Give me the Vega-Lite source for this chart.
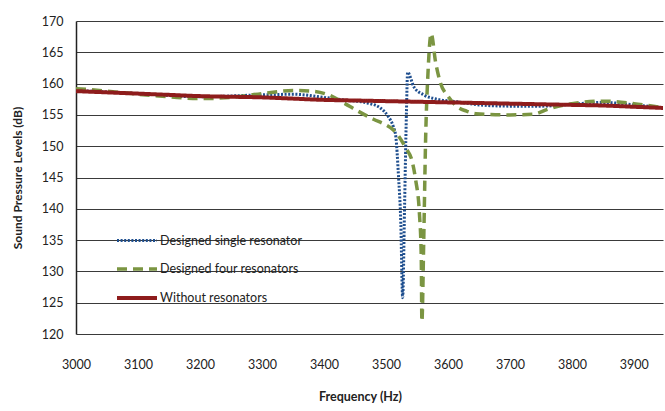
{
  "$schema": "https://vega.github.io/schema/vega-lite/v6.json",
  "width": 587,
  "height": 313,
  "autosize": {"type": "none"},
  "padding": {"left": 76, "top": 21, "right": 2, "bottom": 77},
  "background": "white",
  "config": {
    "view": {"stroke": null},
    "font": "Lato"
  },
  "data": {
    "values": [
      {"series": "Designed single resonator", "freq": 3000, "spl": 158.9},
      {"series": "Designed single resonator", "freq": 3100, "spl": 158.4},
      {"series": "Designed single resonator", "freq": 3200, "spl": 157.9},
      {"series": "Designed single resonator", "freq": 3300, "spl": 158.2},
      {"series": "Designed single resonator", "freq": 3350, "spl": 158.3},
      {"series": "Designed single resonator", "freq": 3400, "spl": 157.8},
      {"series": "Designed single resonator", "freq": 3431, "spl": 157.4},
      {"series": "Designed single resonator", "freq": 3470, "spl": 156.9},
      {"series": "Designed single resonator", "freq": 3491, "spl": 156.1},
      {"series": "Designed single resonator", "freq": 3504, "spl": 154.7},
      {"series": "Designed single resonator", "freq": 3512, "spl": 153.1},
      {"series": "Designed single resonator", "freq": 3516, "spl": 151.5},
      {"series": "Designed single resonator", "freq": 3520, "spl": 145.7},
      {"series": "Designed single resonator", "freq": 3524, "spl": 137.7},
      {"series": "Designed single resonator", "freq": 3527, "spl": 125.8},
      {"series": "Designed single resonator", "freq": 3530, "spl": 140.0},
      {"series": "Designed single resonator", "freq": 3533, "spl": 155.0},
      {"series": "Designed single resonator", "freq": 3535, "spl": 161.8},
      {"series": "Designed single resonator", "freq": 3545, "spl": 159.5},
      {"series": "Designed single resonator", "freq": 3561, "spl": 158.2},
      {"series": "Designed single resonator", "freq": 3583, "spl": 157.5},
      {"series": "Designed single resonator", "freq": 3615, "spl": 157.1},
      {"series": "Designed single resonator", "freq": 3650, "spl": 156.6},
      {"series": "Designed single resonator", "freq": 3700, "spl": 156.4},
      {"series": "Designed single resonator", "freq": 3750, "spl": 156.4},
      {"series": "Designed single resonator", "freq": 3800, "spl": 156.7},
      {"series": "Designed single resonator", "freq": 3850, "spl": 157.0},
      {"series": "Designed single resonator", "freq": 3900, "spl": 156.6},
      {"series": "Designed single resonator", "freq": 3950, "spl": 156.1},

      {"series": "Designed four resonators", "freq": 3000, "spl": 159.2},
      {"series": "Designed four resonators", "freq": 3050, "spl": 158.8},
      {"series": "Designed four resonators", "freq": 3100, "spl": 158.3},
      {"series": "Designed four resonators", "freq": 3150, "spl": 157.9},
      {"series": "Designed four resonators", "freq": 3200, "spl": 157.6},
      {"series": "Designed four resonators", "freq": 3250, "spl": 157.8},
      {"series": "Designed four resonators", "freq": 3300, "spl": 158.4},
      {"series": "Designed four resonators", "freq": 3350, "spl": 158.9},
      {"series": "Designed four resonators", "freq": 3380, "spl": 158.8},
      {"series": "Designed four resonators", "freq": 3410, "spl": 158.1},
      {"series": "Designed four resonators", "freq": 3434, "spl": 156.8},
      {"series": "Designed four resonators", "freq": 3455, "spl": 155.6},
      {"series": "Designed four resonators", "freq": 3480, "spl": 154.3},
      {"series": "Designed four resonators", "freq": 3500, "spl": 153.4},
      {"series": "Designed four resonators", "freq": 3512, "spl": 152.6},
      {"series": "Designed four resonators", "freq": 3531, "spl": 149.9},
      {"series": "Designed four resonators", "freq": 3543, "spl": 147.3},
      {"series": "Designed four resonators", "freq": 3548, "spl": 144.6},
      {"series": "Designed four resonators", "freq": 3554, "spl": 139.3},
      {"series": "Designed four resonators", "freq": 3557, "spl": 132.3},
      {"series": "Designed four resonators", "freq": 3558, "spl": 122.0},
      {"series": "Designed four resonators", "freq": 3561, "spl": 135.0},
      {"series": "Designed four resonators", "freq": 3564, "spl": 151.0},
      {"series": "Designed four resonators", "freq": 3568, "spl": 162.0},
      {"series": "Designed four resonators", "freq": 3573, "spl": 168.0},
      {"series": "Designed four resonators", "freq": 3580, "spl": 163.5},
      {"series": "Designed four resonators", "freq": 3588, "spl": 160.1},
      {"series": "Designed four resonators", "freq": 3600, "spl": 158.0},
      {"series": "Designed four resonators", "freq": 3615, "spl": 156.3},
      {"series": "Designed four resonators", "freq": 3630, "spl": 155.6},
      {"series": "Designed four resonators", "freq": 3645, "spl": 155.2},
      {"series": "Designed four resonators", "freq": 3700, "spl": 155.0},
      {"series": "Designed four resonators", "freq": 3738, "spl": 155.1},
      {"series": "Designed four resonators", "freq": 3761, "spl": 155.9},
      {"series": "Designed four resonators", "freq": 3800, "spl": 156.8},
      {"series": "Designed four resonators", "freq": 3850, "spl": 157.2},
      {"series": "Designed four resonators", "freq": 3900, "spl": 156.8},
      {"series": "Designed four resonators", "freq": 3950, "spl": 156.1},

      {"series": "Without resonators", "freq": 3000, "spl": 158.8},
      {"series": "Without resonators", "freq": 3050, "spl": 158.6},
      {"series": "Without resonators", "freq": 3100, "spl": 158.4},
      {"series": "Without resonators", "freq": 3150, "spl": 158.2},
      {"series": "Without resonators", "freq": 3200, "spl": 158.0},
      {"series": "Without resonators", "freq": 3250, "spl": 157.9},
      {"series": "Without resonators", "freq": 3300, "spl": 157.8},
      {"series": "Without resonators", "freq": 3350, "spl": 157.6},
      {"series": "Without resonators", "freq": 3400, "spl": 157.4},
      {"series": "Without resonators", "freq": 3450, "spl": 157.3},
      {"series": "Without resonators", "freq": 3500, "spl": 157.2},
      {"series": "Without resonators", "freq": 3550, "spl": 157.1},
      {"series": "Without resonators", "freq": 3600, "spl": 157.0},
      {"series": "Without resonators", "freq": 3650, "spl": 156.9},
      {"series": "Without resonators", "freq": 3700, "spl": 156.8},
      {"series": "Without resonators", "freq": 3750, "spl": 156.7},
      {"series": "Without resonators", "freq": 3800, "spl": 156.6},
      {"series": "Without resonators", "freq": 3850, "spl": 156.5},
      {"series": "Without resonators", "freq": 3900, "spl": 156.3},
      {"series": "Without resonators", "freq": 3950, "spl": 156.1}
    ]
  },
  "mark": {"type": "line", "interpolate": "monotone", "clip": true, "strokeCap": "butt"},
  "encoding": {
    "x": {
      "field": "freq", "type": "quantitative",
      "scale": {"domain": [3000, 3947], "nice": false, "zero": false},
      "axis": {
        "title": "Frequency (Hz)", "format": "d", "values": [3000, 3100, 3200, 3300, 3400, 3500, 3600, 3700, 3800, 3900],
        "grid": false, "ticks": false, "domain": false, "labelPadding": 24, "labelFontSize": 12.5, "labelColor": "#222",
        "labelFlush": false, "titleFontSize": 12.5, "titleFontWeight": "bold", "titleColor": "#222", "titlePadding": 20, "titleX": 284
      }
    },
    "y": {
      "field": "spl", "type": "quantitative",
      "scale": {"domain": [120, 170], "nice": false, "zero": false},
      "axis": {
        "title": "Sound Pressure Levels (dB)", "values": [120, 125, 130, 135, 140, 145, 150, 155, 160, 165, 170],
        "grid": true, "gridColor": "#3a3a3a", "gridWidth": 1, "gridOpacity": 1, "ticks": false,
        "domain": true, "domainColor": "#222", "domainWidth": 1.5,
        "labelPadding": 13, "labelFontSize": 12.5, "labelColor": "#222",
        "titleFontSize": 12, "titleFontWeight": "bold", "titleColor": "#222", "titlePadding": 17
      }
    },
    "color": {
      "field": "series", "type": "nominal",
      "scale": {"domain": ["Designed single resonator", "Designed four resonators", "Without resonators"], "range": ["#1f4f8f", "#7b9542", "#8e1c1c"]},
      "legend": {
        "title": null, "orient": "none", "legendX": 39, "legendY": 198, "symbolType": "stroke", "symbolSize": 1600,
        "rowPadding": -5.5, "labelFontSize": 12.5, "labelColor": "#222", "labelOffset": 1, "symbolStrokeWidth": 3.5
      }
    },
    "strokeDash": {
      "field": "series", "type": "nominal",
      "scale": {"domain": ["Designed single resonator", "Designed four resonators", "Without resonators"], "range": [[2, 1.6], [10, 6], [1, 0]]},
      "legend": {
        "title": null, "orient": "none", "legendX": 39, "legendY": 198, "symbolType": "stroke", "symbolSize": 1600,
        "rowPadding": -5.5, "labelFontSize": 12.5, "labelColor": "#222", "labelOffset": 1, "symbolStrokeWidth": 3.5
      }
    },
    "strokeWidth": {
      "field": "series", "type": "nominal",
      "scale": {"domain": ["Designed single resonator", "Designed four resonators", "Without resonators"], "range": [3, 4, 4]},
      "legend": null
    }
  }
}
